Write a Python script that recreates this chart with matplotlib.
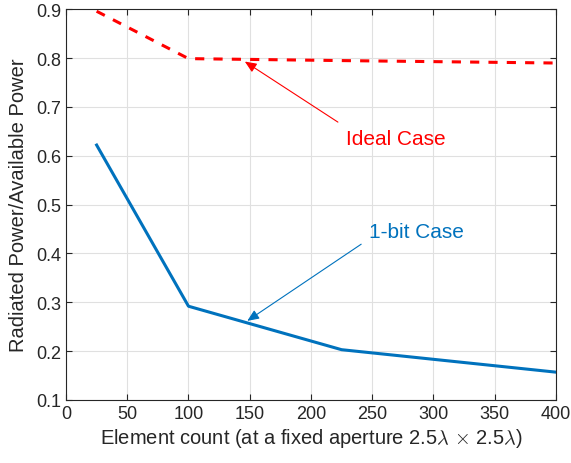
import numpy as np
import matplotlib
matplotlib.use('Agg')
import matplotlib.pyplot as plt

plt.rcParams['font.family'] = ['Liberation Sans', 'DejaVu Sans']
plt.rcParams['mathtext.fontset'] = 'cm'

# element counts (5x5, 10x10, 15x15, 20x20)
n_elem = [25, 100, 225, 400]
ideal = [0.896, 0.799, 0.795, 0.790]
onebit = [0.622, 0.292, 0.203, 0.157]

xticks = np.arange(0, 401, 50)
yticks = np.arange(0.1, 0.91, 0.1)

red = '#ff0000'
blue = '#0072BD'
dark = '#262626'

fig = plt.figure(figsize=(5.71, 4.64), dpi=100)
ax = fig.add_axes([0.1156, 0.1358, 0.858, 0.842])

ax.plot(n_elem, ideal, '--', color=red, lw=2.2, dashes=(3, 3))
ax.plot(n_elem, onebit, '-', color=blue, lw=2.2)

# arrows + labels
ax.annotate('', xy=(146, 0.793), xytext=(222, 0.669),
            arrowprops=dict(arrowstyle='-|>,head_length=0.7,head_width=0.3',
                            color=red, lw=0.8, shrinkA=0, shrinkB=0))
ax.text(228.5, 0.636, 'Ideal Case', color=red, fontsize=15, va='center')

ax.annotate('', xy=(148, 0.262), xytext=(241, 0.419),
            arrowprops=dict(arrowstyle='-|>,head_length=0.7,head_width=0.3',
                            color=blue, lw=0.8, shrinkA=0, shrinkB=0))
ax.text(247.5, 0.444, '1-bit Case', color=blue, fontsize=15, va='center')

ax.set_xlim(0, 400)
ax.set_ylim(0.1, 0.9)
ax.set_xticks(xticks)
ax.set_yticks(yticks)
ax.set_yticklabels([f'{v:.1f}' for v in yticks])
ax.grid(True, color='#e0e0e0', lw=0.8)
ax.set_axisbelow(True)
ax.tick_params(direction='in', top=True, right=True, labelsize=13,
               color=dark, labelcolor=dark, length=4)
for s in ax.spines.values():
    s.set_color(dark)
    s.set_linewidth(0.8)

ax.set_xlabel(r'Element count (at a fixed aperture 2.5$\lambda$ $\times$ 2.5$\lambda$)',
              fontsize=14.5, color=dark, labelpad=3)
ax.set_ylabel('Radiated Power/Available Power', fontsize=14.5, color=dark, labelpad=6)

fig.savefig('out.png', dpi=100)
